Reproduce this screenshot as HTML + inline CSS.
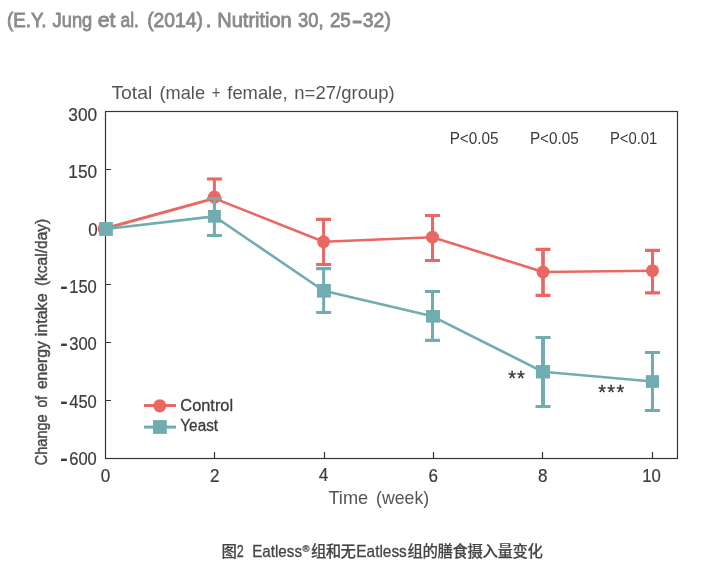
<!DOCTYPE html>
<html lang="zh"><head><meta charset="utf-8"><title>Eatless chart</title>
<style>
html,body{margin:0;padding:0;background:#fff}
body{width:704px;height:569px;overflow:hidden;position:relative}
svg{position:absolute;left:0;top:0;display:block;will-change:transform}
text{font-family:"Liberation Sans","Noto Sans CJK SC",sans-serif}
.hd{font-size:20px;fill:#8a8a8a;stroke:#8a8a8a;stroke-width:.8px}
.tk{font-size:19px;fill:#3d3a38;stroke:#3d3a38;stroke-width:.2px}
.tt{font-size:19px;fill:#555}
.yl{font-size:16.5px;fill:#4a4a4a;stroke:#4a4a4a;stroke-width:.45px}
.pv{font-size:16px;fill:#3a3a3a}
.lg{font-size:16px;fill:#3d3a38;stroke:#3d3a38;stroke-width:.3px}
.st{font-size:20px;fill:#333;stroke:#333;stroke-width:.3px}
.cap{font-size:15.4px;fill:#444;font-weight:500;stroke:#444;stroke-width:.15px}
.cap .la{stroke-width:.3px;font-size:16.2px}
.cap .rg{stroke-width:.3px;font-size:9.5px}
</style></head><body>
<svg width="704" height="569" viewBox="0 0 704 569">
<rect width="704" height="569" fill="#fff"/>
<text class="hd" y="27"><tspan x="7.1" textLength="39.3" lengthAdjust="spacingAndGlyphs">(E.Y.</tspan> <tspan x="52.6" textLength="39.7" lengthAdjust="spacingAndGlyphs">Jung</tspan> <tspan x="97.8" textLength="17.7" lengthAdjust="spacingAndGlyphs">et</tspan> <tspan x="120.5" textLength="18.4" lengthAdjust="spacingAndGlyphs">al.</tspan> <tspan x="147.2" textLength="55.8" lengthAdjust="spacingAndGlyphs">(2014)</tspan><tspan x="205.8">.</tspan> <tspan x="217.3" textLength="74.4" lengthAdjust="spacingAndGlyphs">Nutrition</tspan> <tspan x="298.0" textLength="25.5" lengthAdjust="spacingAndGlyphs">30,</tspan> <tspan x="329.9" textLength="20.9" lengthAdjust="spacingAndGlyphs">25</tspan><tspan x="352.6" textLength="9.3" lengthAdjust="spacingAndGlyphs" font-weight="bold">–</tspan><tspan x="362.8" textLength="28.1" lengthAdjust="spacingAndGlyphs">32)</tspan></text>
<text class="tt" y="98.9"><tspan x="111.4" textLength="40.9" lengthAdjust="spacingAndGlyphs">Total</tspan> <tspan x="159.5" textLength="45.5" lengthAdjust="spacingAndGlyphs">(male</tspan> <tspan x="211.8" textLength="8.7" lengthAdjust="spacingAndGlyphs">+</tspan> <tspan x="227.3" textLength="60.2" lengthAdjust="spacingAndGlyphs">female,</tspan> <tspan x="294.3" textLength="100.5" lengthAdjust="spacingAndGlyphs">n=27/group)</tspan></text>

<rect x="105.5" y="111.5" width="572" height="347" fill="none" stroke="#3a3532" stroke-width="1.2"/>
<path d="M105.5 169.5h5.5M105.5 227.5h5.5M105.5 284.5h5.5M105.5 342.5h5.5M105.5 400.5h5.5M214.50 458.5v-6.4M324.50 458.5v-6.4M433.50 458.5v-6.4M542.50 458.5v-6.4M652.50 458.5v-6.4" fill="none" stroke="#3a3532" stroke-width="1.2"/>
<text class="tk" x="68.3" y="120.7" textLength="28.8" lengthAdjust="spacingAndGlyphs">300</text>
<text class="tk" x="68.3" y="178.1" textLength="28.8" lengthAdjust="spacingAndGlyphs">150</text>
<text class="tk" x="88.2" y="235.5" textLength="9.4" lengthAdjust="spacingAndGlyphs">0</text>
<text class="tk" y="293.0"><tspan x="60.3" font-weight="bold" textLength="7.4" lengthAdjust="spacingAndGlyphs">-</tspan><tspan x="69.2" textLength="27.6" lengthAdjust="spacingAndGlyphs">150</tspan></text>
<text class="tk" y="350.4"><tspan x="60.3" font-weight="bold" textLength="7.4" lengthAdjust="spacingAndGlyphs">-</tspan><tspan x="69.2" textLength="27.6" lengthAdjust="spacingAndGlyphs">300</tspan></text>
<text class="tk" y="407.8"><tspan x="60.3" font-weight="bold" textLength="7.4" lengthAdjust="spacingAndGlyphs">-</tspan><tspan x="69.2" textLength="27.6" lengthAdjust="spacingAndGlyphs">450</tspan></text>
<text class="tk" y="465.2"><tspan x="60.3" font-weight="bold" textLength="7.4" lengthAdjust="spacingAndGlyphs">-</tspan><tspan x="69.2" textLength="27.6" lengthAdjust="spacingAndGlyphs">600</tspan></text>
<text class="tk" x="105.6" y="482.2" text-anchor="middle"  textLength="9.5" lengthAdjust="spacingAndGlyphs">0</text>
<text class="tk" x="214.7" y="482.3" text-anchor="middle"  textLength="9.5" lengthAdjust="spacingAndGlyphs">2</text>
<text class="tk" x="323.6" y="480.8" text-anchor="middle"  textLength="9.5" lengthAdjust="spacingAndGlyphs">4</text>
<text class="tk" x="433.2" y="482.2" text-anchor="middle"  textLength="9.5" lengthAdjust="spacingAndGlyphs">6</text>
<text class="tk" x="542.8" y="482.2" text-anchor="middle"  textLength="9.5" lengthAdjust="spacingAndGlyphs">8</text>
<text class="tk" x="651.6" y="482.2" text-anchor="middle"  textLength="18.6" lengthAdjust="spacingAndGlyphs">10</text>
<text class="tt" y="504.0"><tspan x="328.4" textLength="39.8" lengthAdjust="spacingAndGlyphs">Time</tspan> <tspan x="376.1" textLength="53.0" lengthAdjust="spacingAndGlyphs">(week)</tspan></text>
<text class="yl" y="0.0" transform="translate(46.7 465.2) rotate(-90)"><tspan x="0.0" textLength="50.9" lengthAdjust="spacingAndGlyphs">Change</tspan> <tspan x="57.8" textLength="11.4" lengthAdjust="spacingAndGlyphs">of</tspan> <tspan x="76.1" textLength="48.0" lengthAdjust="spacingAndGlyphs">energy</tspan> <tspan x="128.9" textLength="42.9" lengthAdjust="spacingAndGlyphs">intake</tspan> <tspan x="179.1" textLength="67.4" lengthAdjust="spacingAndGlyphs">(kcal/day)</tspan></text>
<text class="pv" x="449.7" y="143.9" textLength="48.8" lengthAdjust="spacingAndGlyphs">P&lt;0.05</text>
<text class="pv" x="529.9" y="143.9" textLength="48.8" lengthAdjust="spacingAndGlyphs">P&lt;0.05</text>
<text class="pv" x="609.9" y="143.9" textLength="47.4" lengthAdjust="spacingAndGlyphs">P&lt;0.01</text>
<path fill="none" stroke="#EA6863" stroke-width="3" d="M104.10 228.80L214.40 198.40"/>
<polyline fill="none" stroke="#EA6863" stroke-width="2.6" stroke-linejoin="round" points="214.40,198.40 323.55,241.75 432.50,237.20 543.00,272.00 652.50,270.70"/>
<circle cx="104.10" cy="228.80" r="6.5" fill="#EA6863"/>
<path d="M214.40 179.00V205.00" fill="none" stroke="#EA6863" stroke-width="3.0"/>
<path d="M206.90 179.00H221.90" fill="none" stroke="#EA6863" stroke-width="3.1"/>
<circle cx="214.40" cy="197.10" r="6.5" fill="#EA6863"/>
<path d="M323.55 219.40V264.45" fill="none" stroke="#EA6863" stroke-width="3.0"/>
<path d="M316.05 219.40H331.05M316.05 264.45H331.05" fill="none" stroke="#EA6863" stroke-width="3.1"/>
<circle cx="323.55" cy="241.75" r="6.5" fill="#EA6863"/>
<path d="M432.50 215.50V260.50" fill="none" stroke="#EA6863" stroke-width="3.0"/>
<path d="M425.00 215.50H440.00M425.00 260.50H440.00" fill="none" stroke="#EA6863" stroke-width="3.1"/>
<circle cx="432.50" cy="237.20" r="6.5" fill="#EA6863"/>
<path d="M543.00 249.40V295.40" fill="none" stroke="#EA6863" stroke-width="3.7"/>
<path d="M535.50 249.40H550.50M535.50 295.40H550.50" fill="none" stroke="#EA6863" stroke-width="3.1"/>
<circle cx="543.00" cy="272.00" r="6.5" fill="#EA6863"/>
<path d="M652.50 250.40V292.90" fill="none" stroke="#EA6863" stroke-width="3.0"/>
<path d="M645.00 250.40H660.00M645.00 292.90H660.00" fill="none" stroke="#EA6863" stroke-width="3.1"/>
<circle cx="652.50" cy="270.70" r="6.5" fill="#EA6863"/>
<polyline fill="none" stroke="#70ACB0" stroke-width="2.6" stroke-linejoin="round" points="106.00,229.00 214.40,216.35 323.65,290.80 432.50,316.35 543.00,371.80 652.45,381.50"/>
<rect x="99.15" y="222.10" width="13.7" height="13.8" fill="#70ACB0"/>
<path d="M214.40 198.50V235.50" fill="none" stroke="#70ACB0" stroke-width="3.0"/>
<path d="M206.90 198.50H221.90M206.90 235.50H221.90" fill="none" stroke="#70ACB0" stroke-width="3.1"/>
<rect x="207.95" y="210.00" width="12.9" height="12.7" fill="#70ACB0"/>
<path d="M323.65 268.60V312.50" fill="none" stroke="#70ACB0" stroke-width="3.0"/>
<path d="M316.15 268.60H331.15M316.15 312.50H331.15" fill="none" stroke="#70ACB0" stroke-width="3.1"/>
<rect x="316.95" y="284.00" width="13.9" height="13.6" fill="#70ACB0"/>
<path d="M432.50 291.45V340.40" fill="none" stroke="#70ACB0" stroke-width="3.0"/>
<path d="M425.00 291.45H440.00M425.00 340.40H440.00" fill="none" stroke="#70ACB0" stroke-width="3.1"/>
<rect x="426.00" y="310.05" width="14.0" height="12.6" fill="#70ACB0"/>
<path d="M543.00 337.50V406.50" fill="none" stroke="#70ACB0" stroke-width="4.0"/>
<path d="M535.50 337.50H550.50M535.50 406.50H550.50" fill="none" stroke="#70ACB0" stroke-width="3.1"/>
<rect x="535.90" y="365.10" width="14.2" height="13.4" fill="#70ACB0"/>
<path d="M652.45 352.50V410.50" fill="none" stroke="#70ACB0" stroke-width="3.0"/>
<path d="M644.95 352.50H659.95M644.95 410.50H659.95" fill="none" stroke="#70ACB0" stroke-width="3.1"/>
<rect x="645.85" y="375.15" width="13.2" height="12.7" fill="#70ACB0"/>
<text class="st" x="508.3" y="385.4" textLength="16.4" lengthAdjust="spacing">**</text>
<text class="st" x="598.2" y="398.7" textLength="26" lengthAdjust="spacing">***</text>
<path d="M144 405.5H176" stroke="#EA6863" stroke-width="3"/><circle cx="159.8" cy="405.8" r="6.6" fill="#EA6863"/>
<path d="M144 427.1H176" stroke="#70ACB0" stroke-width="3"/><rect x="153" y="420.1" width="13.8" height="13.8" fill="#70ACB0"/>
<text class="lg" x="180.3" y="410.6" textLength="52.8" lengthAdjust="spacingAndGlyphs">Control</text>
<text class="lg" x="180.3" y="431.4" textLength="37.8" lengthAdjust="spacingAndGlyphs">Yeast</text>
<text class="cap" y="556.5"><tspan x="221.5" textLength="15" lengthAdjust="spacing">图</tspan><tspan class="la" x="236.8" textLength="7" lengthAdjust="spacingAndGlyphs">2</tspan> <tspan class="la" x="252.2" textLength="49.8" lengthAdjust="spacingAndGlyphs">Eatless</tspan><tspan class="rg" x="302.6" y="551.6">®</tspan><tspan x="311" y="556.5" textLength="44.8" lengthAdjust="spacing">组和无</tspan><tspan class="la" x="356.3" textLength="50.5" lengthAdjust="spacingAndGlyphs">Eatless</tspan><tspan x="407.6" textLength="135.3" lengthAdjust="spacing">组的膳食摄入量变化</tspan></text>
</svg>
</body></html>
